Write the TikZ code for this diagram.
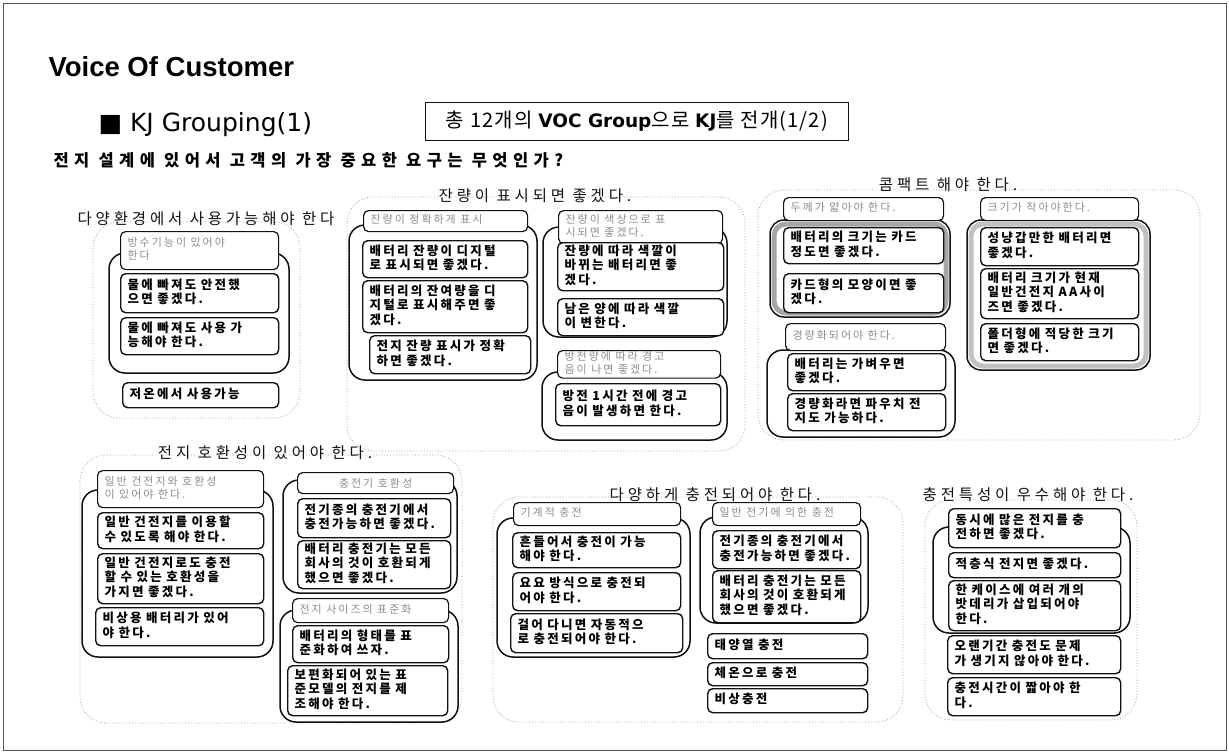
\documentclass[tikz,border=0pt]{standalone}
\usepackage{fontspec}
\setmainfont{Noto Sans CJK KR}
\newfontfamily\kri[LetterSpace=18]{Noto Sans CJK KR}
\newfontfamily\krt[LetterSpace=25]{Noto Sans CJK KR}
\newfontfamily\krq[LetterSpace=33]{Noto Sans CJK KR}
\newfontfamily\krb[LetterSpace=6]{Noto Sans CJK KR}
\newfontfamily\ttl{Liberation Sans}
\newfontfamily\lat{DejaVu Sans}
\newcommand\stk[1]{\begin{tabular}{@{}l@{}}#1\end{tabular}}
\definecolor{ink}{HTML}{111111}
\definecolor{faint}{HTML}{8C8C8C}
\definecolor{dots}{HTML}{9E9E9E}
\definecolor{edge}{HTML}{555555}
\definecolor{hatch}{HTML}{A6A6A6}
\tikzset{
  frameline/.style={draw=edge, line width=0.8pt},
  grpline/.style={draw=dots, line width=0.8pt, dotted, rounded corners=26pt},
  contline/.style={draw=ink, line width=1.5pt, rounded corners=16pt},
  hatchband/.style={draw=hatch, line width=5pt, rounded corners=12pt},
  item/.style={draw=ink, fill=white, line width=1.4pt, rounded corners=5pt, anchor=north west,
    inner xsep=7pt, inner ysep=1pt, font=\kri\bfseries\fontsize{12.5}{13.8}\selectfont,
    execute at begin node={\spaceskip=4.5pt\relax}},
  hdr/.style={item, line width=1.2pt, text=faint, font=\kri\fontsize{11}{12.2}\selectfont},
  grptitle/.style={font=\krt\fontsize{15.5}{17}\selectfont, text=ink, inner sep=0pt},
}

\begin{document}
\begin{tikzpicture}[x=1pt, y=-1pt]
\useasboundingbox (0,0) rectangle (1229,753);
\draw[frameline] (3,3) rectangle (1226,750);

% heading
\node[anchor=base west, font=\ttl\bfseries\fontsize{27.5}{32}\selectfont] (voc) at (45,76) {Voice Of Customer};
\node[anchor=base west, font=\lat\fontsize{25}{28}\selectfont] (kj) at (95,131) {■ KJ Grouping(1)};
\node[draw=ink, line width=1pt, anchor=north west, minimum width=423, minimum height=38, inner sep=0pt,
  font=\krb\fontsize{20}{22}\selectfont] (kjbox) at (425,102)
  {총 12개의 {\lat\bfseries\fontsize{18.5}{22}\selectfont VOC Group}으로 {\lat\bfseries\fontsize{18.5}{22}\selectfont KJ}를 전개(1/2)};
\node[anchor=base west, font=\krq\bfseries\fontsize{16.5}{18}\selectfont] (ask) at (50,166)
  {전지 설계에 있어서 고객의 가장 중요한 요구는 무엇인가?};

% group: various environments
\draw[grpline] (93,222) rectangle (300,418);
\node[grptitle] (tenv) at (206,219) {다양환경에서 사용가능해야 한다};
\draw[contline] (109,253) rectangle (289,373);
\node[hdr, text width=144pt, minimum height=38] (henv) at (120,231) {\stk{방수기능이 있어야\\한다}};
\node[item, text width=144pt, minimum height=39] (env1) at (120,273) {\stk{물에 빠져도 안전했\\으면 좋겠다.}};
\node[item, text width=144pt, minimum height=37] (env2) at (120,317) {\stk{물에 빠져도 사용 가\\능해야 한다.}};
\node[item, text width=142pt, minimum height=25] (env3) at (122,382) {\stk{저온에서 사용가능}};

% group: remaining charge
\draw[grpline] (347,197) rectangle (745,451);
\node[grptitle] (tlvl) at (535,196) {잔량이 표시되면 좋겠다.};
\draw[contline] (349,225) rectangle (537,380);
\node[hdr, text width=150pt, minimum height=21] (hlvl1) at (363,210) {\stk{잔량이 정확하게 표시}};
\node[item, text width=151pt, minimum height=37] (lvl1) at (362,240) {\stk{배터리 잔량이 디지털\\로 표시되면 좋겠다.}};
\node[item, text width=151pt, minimum height=52] (lvl2) at (362,280) {\stk{배터리의 잔여량을 디\\지털로 표시해주면 좋\\겠다.}};
\node[item, text width=147pt, minimum height=38] (lvl3) at (369,335) {\stk{전지 잔량 표시가 정확\\하면 좋겠다.}};
\draw[contline] (543,227) rectangle (727,337);
\node[hdr, text width=150pt, minimum height=33] (hlvl2) at (558,210) {\stk{잔량이 색상으로 표\\시되면 좋겠다.}};
\node[item, text width=152pt, minimum height=48] (lvl4) at (557,242) {\stk{잔량에 따라 색깔이\\바뀌는 배터리면 좋\\겠다.}};
\node[item, text width=152pt, minimum height=37] (lvl5) at (557,298) {\stk{남은 양에 따라 색깔\\이 변한다.}};
\draw[contline] (542,372) rectangle (727,440);
\node[hdr, text width=149pt, minimum height=27] (hlvl3) at (557,350) {\stk{방전량에 따라 경고\\음이 나면 좋겠다.}};
\node[item, text width=151pt, minimum height=42] (lvl6) at (555,383) {\stk{방전 1시간 전에 경고\\음이 발생하면 한다.}};

% group: compact
\draw[grpline] (758,190) rectangle (1200,440);
\node[grptitle] (tcmp) at (948,185) {콤팩트 해야 한다.};
\draw[hatchband] (774,224) rectangle (946,313);
\draw[contline, rounded corners=14pt] (770,220) rectangle (950,317);
\node[hdr, text width=146pt, minimum height=23] (hcmp1) at (783,197) {\stk{두께가 얇아야 한다.}};
\node[item, text width=146pt, minimum height=36] (cmp1) at (783,227) {\stk{배터리의 크기는 카드\\정도면 좋겠다.}};
\node[item, text width=146pt, minimum height=39] (cmp2) at (783,273) {\stk{카드형의 모양이면 좋\\겠다.}};
\draw[contline] (767,350) rectangle (955,437);
\node[hdr, text width=146pt, minimum height=27] (hcmp2) at (785,323) {\stk{경량화되어야 한다.}};
\node[item, text width=144pt, minimum height=37] (cmp3) at (787,353) {\stk{배터리는 가벼우면\\좋겠다.}};
\node[item, text width=144pt, minimum height=37] (cmp4) at (787,393) {\stk{경량화라면 파우치 전\\지도 가능하다.}};
\draw[hatchband, draw=hatch!70] (971,224) rectangle (1146,366);
\draw[contline, rounded corners=14pt] (967,220) rectangle (1150,370);
\node[hdr, text width=144pt, minimum height=23] (hcmp3) at (980,197) {\stk{크기가 작아야한다.}};
\node[item, text width=144pt, minimum height=38] (cmp5) at (980,227) {\stk{성냥갑만한 배터리면\\좋겠다.}};
\node[item, text width=144pt, minimum height=50] (cmp6) at (980,268) {\stk{배터리 크기가 현재\\일반건전지 AA사이\\즈면 좋겠다.}};
\node[item, text width=144pt, minimum height=37] (cmp7) at (980,323) {\stk{폴더형에 적당한 크기\\면 좋겠다.}};

% group: compatibility
\draw[grpline] (80,455) rectangle (462,723);
\node[grptitle] (tcpt) at (265,453) {전지 호환성이 있어야 한다.};
\draw[contline] (82,490) rectangle (273,657);
\node[hdr, text width=152pt, minimum height=37] (hcpt1) at (97,470) {\stk{일반 건전지와 호환성\\이 있어야 한다.}};
\node[item, text width=152pt, minimum height=36] (cpt1) at (97,512) {\stk{일반 건전지를 이용할\\수 있도록 해야 한다.}};
\node[item, text width=152pt, minimum height=50] (cpt2) at (97,553) {\stk{일반 건전지로도 충전\\할 수 있는 호환성을\\가지면 좋겠다.}};
\node[item, text width=154pt, minimum height=38] (cpt3) at (95,607) {\stk{비상용 배터리가 있어\\야 한다.}};
\draw[contline] (283,480) rectangle (457,593);
\node[hdr, minimum width=156, minimum height=21] (hcpt2) at (297,472) {충전기 호환성};
\node[item, text width=139pt, minimum height=39] (cpt4) at (297,498) {\stk{전기종의 충전기에서\\충전가능하면 좋겠다.}};
\node[item, text width=139pt, minimum height=48] (cpt5) at (297,540) {\stk{배터리 충전기는 모든\\회사의 것이 호환되게\\했으면 좋겠다.}};
\draw[contline] (280,610) rectangle (458,722);
\node[hdr, text width=142pt, minimum height=24] (hcpt3) at (292,598) {\stk{전지 사이즈의 표준화}};
\node[item, text width=142pt, minimum height=37] (cpt6) at (292,625) {\stk{배터리의 형태를 표\\준화하여 쓰자.}};
\node[item, text width=146pt, minimum height=50] (cpt7) at (287,665) {\stk{보편화되어 있는 표\\준모델의 전지를 제\\조해야 한다.}};

% group: various charging
\draw[grpline] (493,497) rectangle (903,722);
\node[grptitle] (tchg) at (715,495) {다양하게 충전되어야 한다.};
\draw[contline] (497,518) rectangle (690,657);
\node[hdr, text width=153pt, minimum height=23] (hchg1) at (513,502) {\stk{기계적 충전}};
\node[item, text width=154pt, minimum height=35] (chg1) at (512,532) {\stk{흔들어서 충전이 가능\\해야 한다.}};
\node[item, text width=154pt, minimum height=38] (chg2) at (512,572) {\stk{요요 방식으로 충전되\\어야 한다.}};
\node[item, text width=158pt, minimum height=39] (chg3) at (510,613) {\stk{걸어 다니면 자동적으\\로 충전되어야 한다.}};
\draw[contline] (700,517) rectangle (868,623);
\node[hdr, text width=134pt, minimum height=23] (hchg2) at (712,502) {\stk{일반 전기에 의한 충전}};
\node[item, text width=134pt, minimum height=38] (chg4) at (712,530) {\stk{전기종의 충전기에서\\충전가능하면 좋겠다.}};
\node[item, text width=134pt, minimum height=52] (chg5) at (712,570) {\stk{배터리 충전기는 모든\\회사의 것이 호환되게\\했으면 좋겠다.}};
\node[item, text width=146pt, minimum height=25] (chg6) at (707,633) {\stk{태양열 충전}};
\node[item, text width=146pt, minimum height=23] (chg7) at (707,662) {\stk{체온으로 충전}};
\node[item, text width=146pt, minimum height=24] (chg8) at (707,688) {\stk{비상충전}};

% group: charging quality
\draw[grpline] (925,500) rectangle (1137,720);
\node[grptitle] (tqlt) at (1028,495) {충전특성이 우수해야 한다.};
\draw[contline] (933,527) rectangle (1130,633);
\node[item, text width=158pt, minimum height=39] (qlt1) at (948,508) {\stk{동시에 많은 전지를 충\\전하면 좋겠다.}};
\node[item, text width=158pt, minimum height=25] (qlt2) at (948,552) {\stk{적층식 전지면 좋겠다.}};
\node[item, text width=158pt, minimum height=50] (qlt3) at (948,580) {\stk{한 케이스에 여러 개의\\밧데리가 삽입되어야\\한다.}};
\node[item, text width=159pt, minimum height=38] (qlt4) at (947,635) {\stk{오랜기간 충전도 문제\\가 생기지 않아야 한다.}};
\node[item, text width=159pt, minimum height=38] (qlt5) at (947,677) {\stk{충전시간이 짧아야 한\\다.}};
\end{tikzpicture}
\end{document}
